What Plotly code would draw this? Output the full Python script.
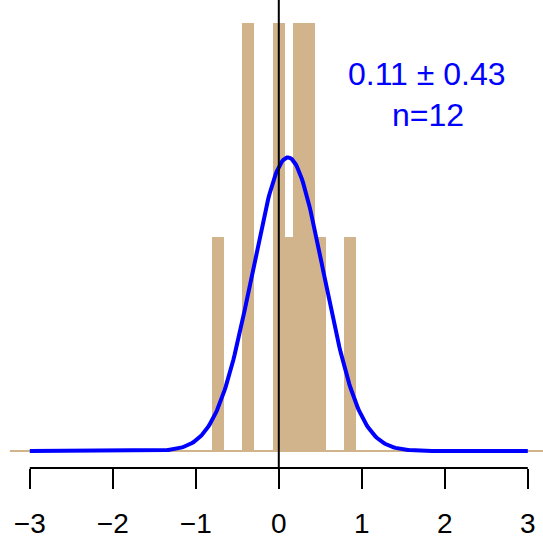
import numpy as np
import plotly.graph_objects as go

# histogram-ish bars: centre, count (each bar 0.14 wide)
bar_centers = [-0.733, -0.37, 0.0, 0.142, 0.235, 0.364, 0.493, 0.859]
bar_counts = [1, 2, 2, 1, 2, 2, 1, 1]
bar_width = 0.14

# fitted normal curve shown in blue
mean = 0.11
sd = 0.43
n_obs = 12
curve_peak = 1.371   # peak height, in count units

tick_vals = [-3, -2, -1, 0, 1, 2, 3]

tan = "#D2B48C"
blue = "#0000FF"
font_family = "Liberation Sans, Arial, sans-serif"

xs = np.linspace(tick_vals[0], tick_vals[-1], 400)
ys = curve_peak * np.exp(-0.5 * ((xs - mean) / sd) ** 2)

fig = go.Figure()
fig.add_trace(go.Bar(x=bar_centers, y=bar_counts, width=[bar_width] * len(bar_centers),
                     marker=dict(color=tan, line=dict(width=0)), hoverinfo="skip"))
fig.add_trace(go.Scatter(x=xs, y=ys, mode="lines", line=dict(color=blue, width=4),
                         hoverinfo="skip"))

# baseline in tan, spanning the plot region (R style 4% padding)
pad = 0.04 * (tick_vals[-1] - tick_vals[0])
fig.add_shape(type="line", xref="x", yref="y", x0=tick_vals[0] - pad, x1=4,
              y0=0, y1=0, line=dict(color=tan, width=2), layer="below")
# vertical reference line at zero
fig.add_shape(type="line", xref="x", yref="paper", x0=0, x1=0, y0=0, y1=1.02,
              line=dict(color="black", width=2), layer="above")
# axis line only across the tick span
fig.add_shape(type="line", xref="x", yref="paper", x0=tick_vals[0], x1=tick_vals[-1],
              y0=0, y1=0, line=dict(color="black", width=2), layer="above")

fig.add_annotation(x=1.78, y=1.76, xref="x", yref="y",
                   text=f"{mean:.2f} \u00b1 {sd:.2f}",
                   showarrow=False, font=dict(size=32, color=blue, family=font_family))
fig.add_annotation(x=1.8, y=1.57, xref="x", yref="y", text=f"n={n_obs}",
                   showarrow=False, font=dict(size=32, color=blue, family=font_family))

fig.update_layout(
    width=543, height=539,
    margin=dict(l=0, r=0, t=0, b=71),
    paper_bgcolor="white", plot_bgcolor="white",
    showlegend=False, barmode="overlay", bargap=0,
    xaxis=dict(range=[-3.359, 3.183], tickvals=tick_vals, ticks="outside",
               ticklen=20, tickwidth=2, tickcolor="black", showgrid=False,
               zeroline=False, showline=False, ticklabelstandoff=10, automargin=False,
               tickfont=dict(size=28, color="black", family=font_family)),
    yaxis=dict(range=[-0.0794, 2.106], visible=False, showgrid=False, zeroline=False,
               automargin=False),
)

# drop the default page margin so the figure sits at the window corner
fig.write_html("out.html", config={"displayModeBar": False},
               post_script="document.body.style.margin='0';")
